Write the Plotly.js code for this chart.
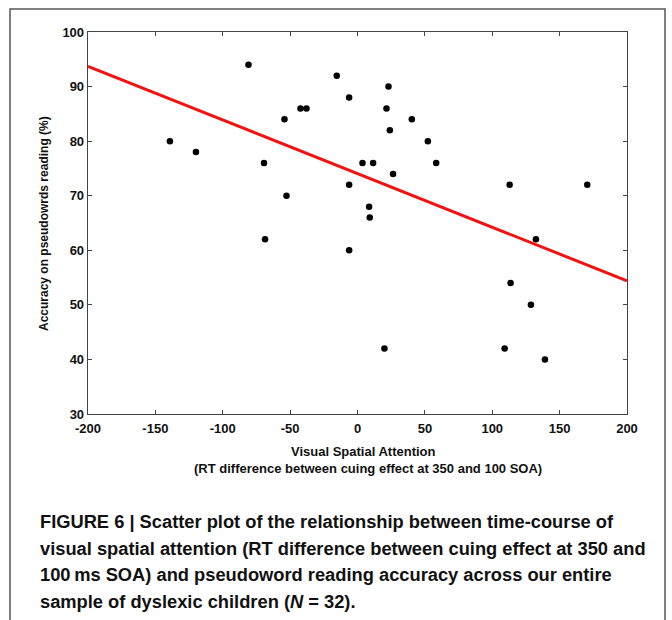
<!DOCTYPE html>
<html>
<head>
<meta charset="utf-8">
<script src="https://cdn.plot.ly/plotly-3.0.1.min.js"></script>
<style>
html,body{margin:0;padding:0;background:#fff;}
#chart{width:672px;height:620px;}
</style>
</head>
<body>
<div id="chart"></div>
<script>
// Data
const visualSpatialAttention = [-139.2, -119.9, -80.9, -69.4, -54.2, -52.7, -68.6, -42.3, -37.9, -15.4,
  -6.2, -6.2, -6.2, 3.7, 11.6, 8.6, 9.1, 26.4, 23.0, 21.5,
  24.0, 20.0, 40.3, 52.2, 58.4, 112.9, 170.5, 132.4, 113.6, 128.7,
  109.2, 139.1];
const pseudowordAccuracy = [80, 78, 94, 76, 84, 70, 62, 86, 86, 92,
  88, 72, 60, 76, 76, 68, 66, 74, 90, 86,
  82, 42, 84, 80, 76, 72, 72, 62, 54, 50,
  42, 40];
const fitX = [-200, 200];
const fitY = [93.7, 54.4];
const xTicks = [-200, -150, -100, -50, 0, 50, 100, 150, 200];
const yTicks = [30, 40, 50, 60, 70, 80, 90, 100];

const xTitleLines = ["Visual Spatial Attention", "(RT difference between cuing effect at 350 and 100 SOA)"];
const yTitle = "Accuracy on pseudowrds reading (%)";
const captionLines = [
  "FIGURE 6 | Scatter plot of the relationship between time-course of",
  "visual spatial attention (RT difference between cuing effect at 350 and",
  "100\u2009ms SOA) and pseudoword reading accuracy across our entire",
  "sample of dyslexic children (<i>N</i> = 32)."
];

// pixel -> paper helpers (layout only)
const PL = 88, PR = 627, PT = 32, PB = 414;
const px = v => (v - PL) / (PR - PL);
const py = v => (PB - v) / (PB - PT);

const axisFont = {family: "Liberation Sans, Arial, sans-serif", size: 13, color: "#111", weight: 700};
const xTitleFont = {family: "Liberation Sans, Arial, sans-serif", size: 13, color: "#111", weight: 700};
const yTitleFont = {family: "Liberation Sans, Arial, sans-serif", size: 12, color: "#111", weight: 700};
const capFont = {family: "Liberation Sans, Arial, sans-serif", size: 19, color: "#111", weight: 700};

const traces = [
  {
    x: fitX, y: fitY, type: "scatter", mode: "lines",
    line: {color: "#f21212", width: 3}, hoverinfo: "skip", showlegend: false
  },
  {
    x: visualSpatialAttention, y: pseudowordAccuracy, type: "scatter", mode: "markers",
    marker: {color: "#000", size: 6.5}, showlegend: false
  }
];

const annotations = [
  {text: xTitleLines[0], x: px(363), y: py(451), xref: "paper", yref: "paper", showarrow: false, xanchor: "center", yanchor: "middle", font: xTitleFont},
  {text: xTitleLines[1], x: px(368), y: py(468), xref: "paper", yref: "paper", showarrow: false, xanchor: "center", yanchor: "middle", font: xTitleFont},
  {text: yTitle, x: px(44), y: py(224), xref: "paper", yref: "paper", showarrow: false, textangle: -90, xanchor: "center", yanchor: "middle", font: yTitleFont}
];
const capY = [521.5, 548, 574.5, 601];
captionLines.forEach((t, i) => annotations.push({
  text: t, x: px(38), y: py(capY[i]), xref: "paper", yref: "paper", showarrow: false,
  xanchor: "left", yanchor: "middle", align: "left", font: capFont
}));

const layout = {
  width: 672, height: 620,
  margin: {l: PL, r: 672 - PR, t: PT, b: 620 - PB, pad: 0},
  paper_bgcolor: "#fff", plot_bgcolor: "#fff",
  showlegend: false,
  xaxis: {
    range: [-200, 200], tickvals: xTicks, ticktext: xTicks.map(String),
    ticks: "inside", ticklen: 4, tickcolor: "#444", tickwidth: 1,
    showline: true, linecolor: "#444", linewidth: 1.3, mirror: "ticks",
    showgrid: false, zeroline: false, tickfont: axisFont, ticklabelstandoff: 2
  },
  yaxis: {
    range: [30, 100], tickvals: yTicks, ticktext: yTicks.map(String),
    ticks: "inside", ticklen: 4, tickcolor: "#444", tickwidth: 1,
    showline: true, linecolor: "#444", linewidth: 1.3, mirror: "ticks",
    showgrid: false, zeroline: false, tickfont: axisFont
  },
  annotations: annotations,
  shapes: [
    {type: "rect", xref: "paper", yref: "paper",
     x0: px(10), x1: px(665), y0: py(630), y1: py(9),
     line: {color: "#555", width: 1.5}, fillcolor: "rgba(0,0,0,0)", layer: "below"}
  ]
};

Plotly.newPlot("chart", traces, layout, {displayModeBar: false, staticPlot: true}).then(gd => {
  // condense the caption lines horizontally (reference uses a condensed bold face)
  const capNodes = [];
  gd.querySelectorAll("g.annotation").forEach(g => {
    const idx = +g.getAttribute("data-index");
    if (idx >= 3) capNodes[idx - 3] = g.querySelector("text.annotation-text");
  });
  if (capNodes.length === 4 && capNodes.every(Boolean)) {
    const k = 606 / capNodes[1].getBBox().width;
    capNodes.forEach(n => {
      const x0 = n.getBBox().x;
      const prev = n.getAttribute("transform") || "";
      n.setAttribute("transform", `${prev} translate(${(x0 * (1 - k)).toFixed(2)},0) scale(${k.toFixed(4)},1)`);
    });
  }
});
</script>
</body>
</html>
